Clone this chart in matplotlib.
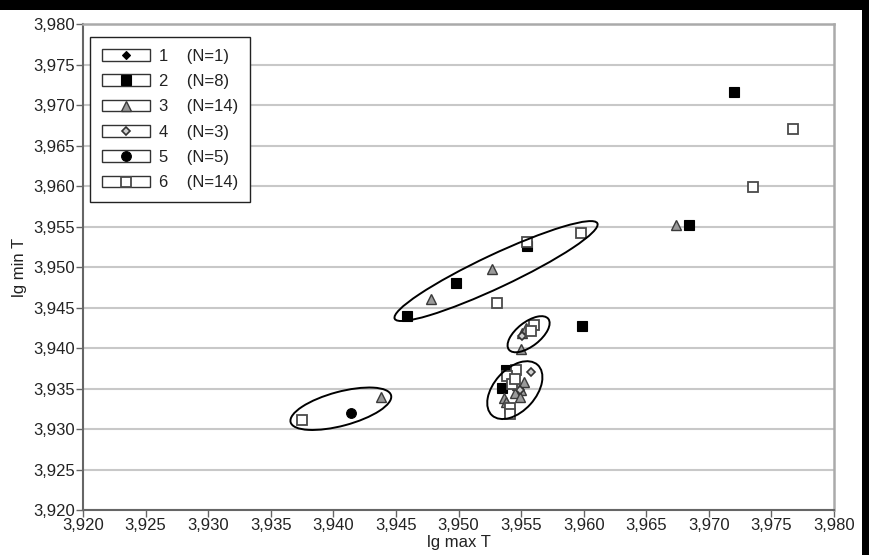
import matplotlib
matplotlib.use("Agg")
import matplotlib.pyplot as plt
from matplotlib.patches import Rectangle, Ellipse
from matplotlib.lines import Line2D
from matplotlib import transforms
from matplotlib.ticker import FuncFormatter, MultipleLocator

plt.rcParams['font.family'] = ['Liberation Sans', 'DejaVu Sans']

# groups (lg max T, lg min T)
x1 = [3.9548]
y1 = [3.9352]

x2 = [3.9720, 3.9684, 3.9599, 3.9555, 3.9498, 3.9459, 3.9535, 3.9538]
y2 = [3.9716, 3.9552, 3.9427, 3.9526, 3.9480, 3.9440, 3.9351, 3.9373]

x3 = [3.9674, 3.9527, 3.9478, 3.9438, 3.9551, 3.9554, 3.9550,
      3.9547, 3.9550, 3.9545, 3.9536, 3.9549, 3.9538, 3.9552]
y3 = [3.9552, 3.9498, 3.9460, 3.9340, 3.9419, 3.9425, 3.9399,
      3.9354, 3.9348, 3.9344, 3.9338, 3.9340, 3.9333, 3.9358]

x4 = [3.9558, 3.9549, 3.9551]
y4 = [3.9370, 3.9348, 3.9415]

x5 = [3.9414]
y5 = [3.9320]

x6 = [3.9767, 3.9735, 3.9598, 3.9555, 3.9531, 3.9375, 3.9541, 3.9546,
      3.9560, 3.9539, 3.9543, 3.9558, 3.9541, 3.9545]
y6 = [3.9670, 3.9599, 3.9542, 3.9531, 3.9456, 3.9311, 3.9326, 3.9373,
      3.9428, 3.9366, 3.9356, 3.9421, 3.9318, 3.9362]

groups = ['1', '2', '3', '4', '5', '6']
counts = [1, 8, 14, 3, 5, 14]

# ellipses: centre (data), semi axes in pixels, angle in degrees
ell_cx = [3.9530, 3.9556, 3.9545, 3.9406]
ell_cy = [3.9495, 3.9417, 3.9348, 3.9325]
ell_a = [112, 25, 34, 52]
ell_b = [16.5, 12, 21, 17]
ell_ang = [25.2, 38, 48, 15]

styles = [
    dict(marker='D', ms=4.5, mfc='black', mec='black', mew=0.8),
    dict(marker='s', ms=6.5, mfc='black', mec='black', mew=0.8),
    dict(marker='^', ms=6.5, mfc='#9a9a9a', mec='#3a3a3a', mew=1.0),
    dict(marker='D', ms=4.5, mfc='#d0d0d0', mec='#333333', mew=1.2),
    dict(marker='o', ms=7, mfc='black', mec='black', mew=0.8),
    dict(marker='s', ms=7, mfc='white', mec='#4a4a4a', mew=1.3),
]
xs = [x1, x2, x3, x4, x5, x6]
ys = [y1, y2, y3, y4, y5, y6]

fig = plt.figure(figsize=(8.7, 5.55), dpi=100)
ax = fig.add_axes([83/870, 1-510/555, 751/870, 486/555])

for i in range(6):
    ax.plot(xs[i], ys[i], ls='none', zorder=3, **styles[i])

for i in range(len(ell_cx)):
    tr = fig.dpi_scale_trans + transforms.ScaledTranslation(ell_cx[i], ell_cy[i], ax.transData)
    e = Ellipse((0, 0), 2*ell_a[i]/100, 2*ell_b[i]/100, angle=ell_ang[i],
                transform=tr, fill=False, ec='black', lw=1.4, zorder=4)
    ax.add_patch(e)

ax.set_xlim(3.920, 3.980)
ax.set_ylim(3.920, 3.980)
ax.xaxis.set_major_locator(MultipleLocator(0.005))
ax.yaxis.set_major_locator(MultipleLocator(0.005))
fmt = FuncFormatter(lambda v, p: ('%.3f' % v).replace('.', ','))
ax.xaxis.set_major_formatter(fmt)
ax.yaxis.set_major_formatter(fmt)
ax.grid(axis='y', color='#c8c8c8', lw=1.5)
ax.set_axisbelow(True)
ax.tick_params(direction='out', length=5, width=1, color='#666666',
               labelsize=12, labelcolor='#222222', pad=1)
for s in ['left', 'bottom']:
    ax.spines[s].set_color('#666666')
    ax.spines[s].set_linewidth(1.5)
for s in ['top', 'right']:
    ax.spines[s].set_color('#aaaaaa')
    ax.spines[s].set_linewidth(1.8)

ax.set_xlabel('lg max T', fontsize=12, color='#222222', labelpad=1)
ax.set_ylabel('lg min T', fontsize=12, color='#222222', labelpad=4)

handles = []
labels = []
for i in range(6):
    box = Rectangle((0, 0), 1, 1, fc='white', ec='#333333', lw=1.0)
    mk = Line2D([], [], ls='none', **styles[i])
    handles.append((box, mk))
    labels.append(groups[i] + '    (N=' + str(counts[i]) + ')')
leg = ax.legend(handles, labels, loc='upper left',
                bbox_to_anchor=((90-83)/751, 1-(37-24)/486), borderaxespad=0,
                fontsize=12, handlelength=2.9, handleheight=0.7,
                handletextpad=0.55, labelspacing=0.62, borderpad=0.7,
                fancybox=False, framealpha=1, edgecolor='#222222')
leg.get_frame().set_linewidth(1.0)
for t in leg.get_texts():
    t.set_color('#222222')

# black margins of the scan
fig.patches.append(Rectangle((0, 1-10/555), 1, 10/555, transform=fig.transFigure,
                             fc='black', ec='none', zorder=-1))
fig.patches.append(Rectangle((862/870, 0), 8/870, 1, transform=fig.transFigure,
                             fc='black', ec='none', zorder=-1))

fig.savefig('out.png', dpi=100, facecolor='white')
